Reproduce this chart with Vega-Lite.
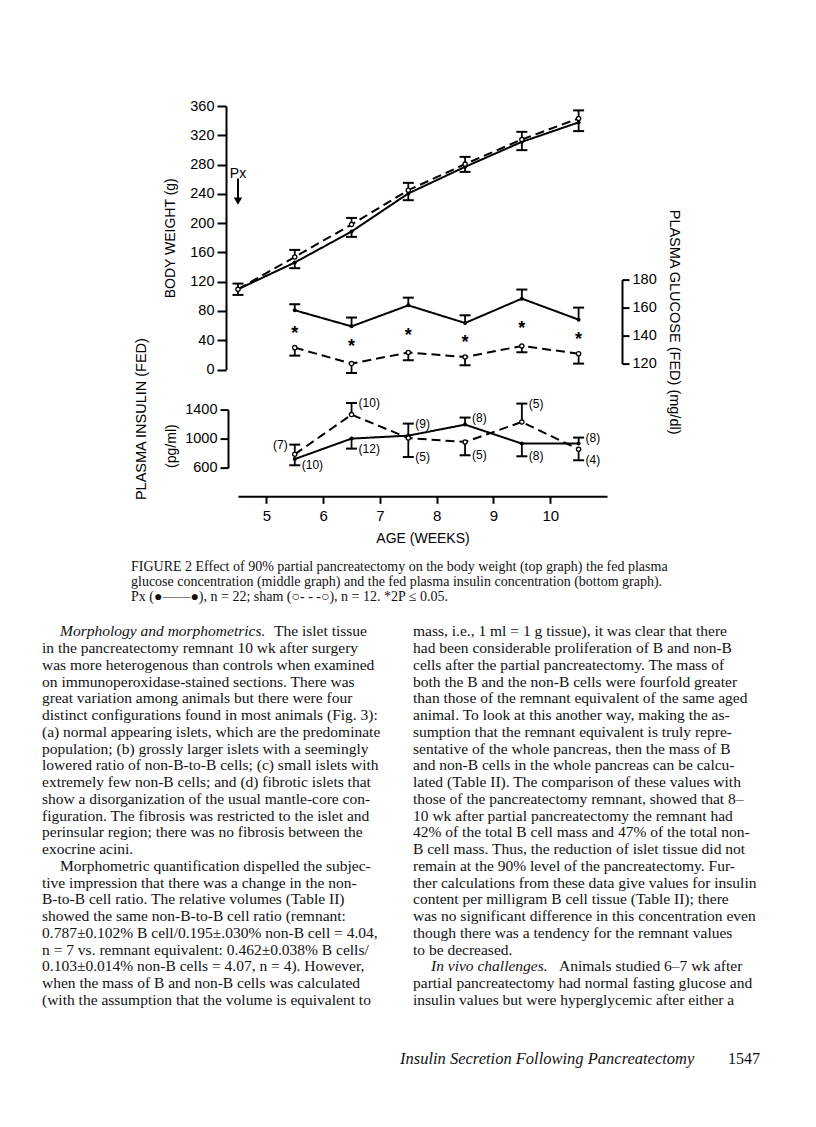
{
  "$schema": "https://vega.github.io/schema/vega-lite/v6.json",
  "background": "white",
  "padding": {"left": 42, "top": 98, "right": 0, "bottom": 0},
  "config": {
    "view": {"stroke": null},
    "axis": {
      "grid": false, "labelOverlap": false, "labelFlush": false, "format": "d",
      "domainColor": "black", "tickColor": "black", "labelColor": "black", "titleColor": "black",
      "labelFont": "Liberation Sans", "titleFont": "Liberation Sans",
      "labelFontSize": 14.5, "titleFontSize": 14.5, "titleFontWeight": "normal",
      "domainWidth": 2, "tickWidth": 2, "tickSize": 9, "labelPadding": 3
    }
  },
  "datasets": {
    "weight": [
      {"week": 4.5, "group": "Px", "mean": 109.7, "bar": 101.9},
      {"week": 4.5, "group": "Sham", "mean": 109.7, "bar": 117.4},
      {"week": 5.5, "group": "Px", "mean": 146.2, "bar": 138.4},
      {"week": 5.5, "group": "Sham", "mean": 153.8, "bar": 163.4},
      {"week": 6.5, "group": "Px", "mean": 188.5, "bar": 181.2},
      {"week": 6.5, "group": "Sham", "mean": 198.1, "bar": 207.1},
      {"week": 7.5, "group": "Px", "mean": 240.5, "bar": 231.3},
      {"week": 7.5, "group": "Sham", "mean": 245, "bar": 255},
      {"week": 8.5, "group": "Px", "mean": 276.9, "bar": 270},
      {"week": 8.5, "group": "Sham", "mean": 280.6, "bar": 290.5},
      {"week": 9.5, "group": "Px", "mean": 311, "bar": 299.7},
      {"week": 9.5, "group": "Sham", "mean": 314.3, "bar": 324.7},
      {"week": 10.5, "group": "Px", "mean": 337.6, "bar": 325.7},
      {"week": 10.5, "group": "Sham", "mean": 343, "bar": 354}
    ],
    "pxnote": [
      {"week": 4.5, "top": 261, "tip": 230, "label": "Px", "labelAt": 267}
    ],
    "glucose": [
      {"week": 5.5, "group": "Px", "mean": 158.1, "bar": 162.4},
      {"week": 6.5, "group": "Px", "mean": 146.6, "bar": 152.9},
      {"week": 7.5, "group": "Px", "mean": 161.6, "bar": 167.1},
      {"week": 8.5, "group": "Px", "mean": 149, "bar": 154.5},
      {"week": 9.5, "group": "Px", "mean": 166.4, "bar": 172.9},
      {"week": 10.5, "group": "Px", "mean": 151.4, "bar": 160},
      {"week": 5.5, "group": "Sham", "mean": 131.4, "bar": 125.7},
      {"week": 6.5, "group": "Sham", "mean": 120, "bar": 113.3},
      {"week": 7.5, "group": "Sham", "mean": 127.9, "bar": 122.4},
      {"week": 8.5, "group": "Sham", "mean": 124.7, "bar": 118.8},
      {"week": 9.5, "group": "Sham", "mean": 132.6, "bar": 128.1},
      {"week": 10.5, "group": "Sham", "mean": 127.1, "bar": 120}
    ],
    "stars": [
      {"week": 5.5, "value": 144.3},
      {"week": 6.5, "value": 135},
      {"week": 7.5, "value": 142.9},
      {"week": 8.5, "value": 137.9},
      {"week": 9.5, "value": 147.4},
      {"week": 10.5, "value": 139.9}
    ],
    "insulin": [
      {"week": 5.5, "group": "Px", "mean": 718, "bar": 632, "n": "(10)"},
      {"week": 6.5, "group": "Px", "mean": 1000, "bar": 862, "n": "(12)"},
      {"week": 7.5, "group": "Px", "mean": 1041, "bar": 1207, "n": "(9)"},
      {"week": 8.5, "group": "Px", "mean": 1193, "bar": 1290, "n": "(8)"},
      {"week": 9.5, "group": "Px", "mean": 931, "bar": 756, "n": "(8)"},
      {"week": 10.5, "group": "Px", "mean": 931, "bar": 1014, "n": "(8)"},
      {"week": 5.5, "group": "Sham", "mean": 783, "bar": 917, "n": "(7)"},
      {"week": 6.5, "group": "Sham", "mean": 1331, "bar": 1491, "n": "(10)"},
      {"week": 7.5, "group": "Sham", "mean": 1008, "bar": 746, "n": "(5)"},
      {"week": 8.5, "group": "Sham", "mean": 953, "bar": 770, "n": "(5)"},
      {"week": 9.5, "group": "Sham", "mean": 1229, "bar": 1483, "n": "(5)"},
      {"week": 10.5, "group": "Sham", "mean": 852, "bar": 701, "n": "(4)"}
    ],
    "caption": [
      {"col": "a", "line": 1, "text": "FIGURE 2  Effect of 90% partial pancreatectomy on the body weight (top graph) the fed plasma"},
      {"col": "a", "line": 2, "text": "glucose concentration (middle graph) and the fed plasma insulin concentration (bottom graph)."},
      {"col": "a", "line": 3, "text": "Px (\u25cf\u2014\u2014\u25cf), n = 22; sham (\u25cb- - -\u25cb), n = 12. *2P \u2264 0.05."}
    ],
    "body": [
      {"col": "a", "line": 1, "first": true, "head": "Morphology and morphometrics.", "text": "The islet tissue"},
      {"col": "a", "line": 2, "first": false, "text": "in the pancreatectomy remnant 10 wk after surgery"},
      {"col": "a", "line": 3, "first": false, "text": "was more heterogenous than controls when examined"},
      {"col": "a", "line": 4, "first": false, "text": "on immunoperoxidase-stained sections. There was"},
      {"col": "a", "line": 5, "first": false, "text": "great variation among animals but there were four"},
      {"col": "a", "line": 6, "first": false, "text": "distinct configurations found in most animals (Fig. 3):"},
      {"col": "a", "line": 7, "first": false, "text": "(a) normal appearing islets, which are the predominate"},
      {"col": "a", "line": 8, "first": false, "text": "population; (b) grossly larger islets with a seemingly"},
      {"col": "a", "line": 9, "first": false, "text": "lowered ratio of non-B-to-B cells; (c) small islets with"},
      {"col": "a", "line": 10, "first": false, "text": "extremely few non-B cells; and (d) fibrotic islets that"},
      {"col": "a", "line": 11, "first": false, "text": "show a disorganization of the usual mantle-core con-"},
      {"col": "a", "line": 12, "first": false, "text": "figuration. The fibrosis was restricted to the islet and"},
      {"col": "a", "line": 13, "first": false, "text": "perinsular region; there was no fibrosis between the"},
      {"col": "a", "line": 14, "first": false, "text": "exocrine acini."},
      {"col": "a", "line": 15, "first": true, "text": "Morphometric quantification dispelled the subjec-"},
      {"col": "a", "line": 16, "first": false, "text": "tive impression that there was a change in the non-"},
      {"col": "a", "line": 17, "first": false, "text": "B-to-B cell ratio. The relative volumes (Table II)"},
      {"col": "a", "line": 18, "first": false, "text": "showed the same non-B-to-B cell ratio (remnant:"},
      {"col": "a", "line": 19, "first": false, "text": "0.787\u00b10.102% B cell/0.195\u00b1.030% non-B cell = 4.04,"},
      {"col": "a", "line": 20, "first": false, "text": "n = 7 vs. remnant equivalent: 0.462\u00b10.038% B cells/"},
      {"col": "a", "line": 21, "first": false, "text": "0.103\u00b10.014% non-B cells = 4.07, n = 4). However,"},
      {"col": "a", "line": 22, "first": false, "text": "when the mass of B and non-B cells was calculated"},
      {"col": "a", "line": 23, "first": false, "text": "(with the assumption that the volume is equivalent to"},
      {"col": "b", "line": 1, "first": false, "text": "mass, i.e., 1 ml = 1 g tissue), it was clear that there"},
      {"col": "b", "line": 2, "first": false, "text": "had been considerable proliferation of B and non-B"},
      {"col": "b", "line": 3, "first": false, "text": "cells after the partial pancreatectomy. The mass of"},
      {"col": "b", "line": 4, "first": false, "text": "both the B and the non-B cells were fourfold greater"},
      {"col": "b", "line": 5, "first": false, "text": "than those of the remnant equivalent of the same aged"},
      {"col": "b", "line": 6, "first": false, "text": "animal. To look at this another way, making the as-"},
      {"col": "b", "line": 7, "first": false, "text": "sumption that the remnant equivalent is truly repre-"},
      {"col": "b", "line": 8, "first": false, "text": "sentative of the whole pancreas, then the mass of B"},
      {"col": "b", "line": 9, "first": false, "text": "and non-B cells in the whole pancreas can be calcu-"},
      {"col": "b", "line": 10, "first": false, "text": "lated (Table II). The comparison of these values with"},
      {"col": "b", "line": 11, "first": false, "text": "those of the pancreatectomy remnant, showed that 8\u2013"},
      {"col": "b", "line": 12, "first": false, "text": "10 wk after partial pancreatectomy the remnant had"},
      {"col": "b", "line": 13, "first": false, "text": "42% of the total B cell mass and 47% of the total non-"},
      {"col": "b", "line": 14, "first": false, "text": "B cell mass. Thus, the reduction of islet tissue did not"},
      {"col": "b", "line": 15, "first": false, "text": "remain at the 90% level of the pancreatectomy. Fur-"},
      {"col": "b", "line": 16, "first": false, "text": "ther calculations from these data give values for insulin"},
      {"col": "b", "line": 17, "first": false, "text": "content per milligram B cell tissue (Table II); there"},
      {"col": "b", "line": 18, "first": false, "text": "was no significant difference in this concentration even"},
      {"col": "b", "line": 19, "first": false, "text": "though there was a tendency for the remnant values"},
      {"col": "b", "line": 20, "first": false, "text": "to be decreased."},
      {"col": "b", "line": 21, "first": true, "head": "In vivo challenges.", "text": "Animals studied 6\u20137 wk after"},
      {"col": "b", "line": 22, "first": false, "text": "partial pancreatectomy had normal fasting glucose and"},
      {"col": "b", "line": 23, "first": false, "text": "insulin values but were hyperglycemic after either a"}
    ],
    "footer": [
      {"part": "title", "text": "Insulin Secretion Following Pancreatectomy"},
      {"part": "page", "text": "1547"}
    ]
  },
  "spacing": 461.3,
  "bounds": "flush",
  "vconcat": [
    {
      "hconcat": [
        {"width": 195.6, "height": 1, "data": {"values": []}, "mark": "point", "encoding": {}},
        {
          "vconcat": [
            {
              "vconcat": [
                {
                  "width": 369, "height": 263.5,
                  "encoding": {
                    "x": {"field": "week", "type": "quantitative", "scale": {"domain": [4.5, 11], "nice": false, "zero": false}, "axis": null}
                  },
                  "layer": [
                    {
                      "data": {"name": "weight"},
                      "mark": {"type": "line", "strokeWidth": 2, "color": "black"},
                      "encoding": {
                        "y": {"field": "mean", "type": "quantitative", "scale": {"domain": [0, 360], "nice": false},
                          "axis": {"values": [0, 40, 80, 120, 160, 200, 240, 280, 320, 360], "tickCount": 30, "labelOverlap": false, "labelFlush": false, "offset": 12, "title": "BODY WEIGHT (g)", "titlePadding": 12, "titleFontSize": 14}},
                        "strokeDash": {"field": "group", "type": "nominal", "scale": {"domain": ["Px", "Sham"], "range": [[1, 0], [9, 5]]}, "legend": null}
                      }
                    },
                    {
                      "data": {"name": "weight"},
                      "mark": {"type": "rule", "strokeWidth": 1.8, "color": "black"},
                      "encoding": {"y": {"field": "mean", "type": "quantitative"}, "y2": {"field": "bar"}}
                    },
                    {
                      "data": {"name": "weight"},
                      "mark": {"type": "tick", "orient": "horizontal", "size": 11, "thickness": 2, "color": "black", "opacity": 1},
                      "encoding": {"y": {"field": "bar", "type": "quantitative"}}
                    },
                    {
                      "data": {"name": "weight"},
                      "transform": [{"filter": "datum.group === 'Px'"}],
                      "mark": {"type": "point", "filled": true, "size": 16, "color": "black", "opacity": 1},
                      "encoding": {"y": {"field": "mean", "type": "quantitative"}}
                    },
                    {
                      "data": {"name": "weight"},
                      "transform": [{"filter": "datum.group === 'Sham'"}],
                      "mark": {"type": "point", "filled": true, "fill": "white", "stroke": "black", "strokeWidth": 1.3, "size": 18, "opacity": 1},
                      "encoding": {"y": {"field": "mean", "type": "quantitative"}}
                    },
                    {
                      "data": {"name": "pxnote"},
                      "mark": {"type": "rule", "strokeWidth": 2, "color": "black"},
                      "encoding": {"y": {"field": "top", "type": "quantitative"}, "y2": {"field": "tip"}}
                    },
                    {
                      "data": {"name": "pxnote"},
                      "mark": {"type": "point", "shape": "triangle-down", "filled": true, "size": 70, "color": "black", "opacity": 1},
                      "encoding": {"y": {"field": "tip", "type": "quantitative"}}
                    },
                    {
                      "data": {"name": "pxnote"},
                      "mark": {"type": "text", "font": "Liberation Sans", "fontSize": 14, "baseline": "middle", "align": "center", "color": "black"},
                      "encoding": {"y": {"field": "labelAt", "type": "quantitative"}, "text": {"field": "label"}}
                    }
                  ]
                }
              ],
              "bounds": "flush"
            },
            {
              "vconcat": [
                {
                  "width": 369, "height": 84,
                  "encoding": {
                    "x": {"field": "week", "type": "quantitative", "scale": {"domain": [4.5, 11], "nice": false, "zero": false}, "axis": null}
                  },
                  "layer": [
                    {
                      "data": {"name": "glucose"},
                      "mark": {"type": "line", "strokeWidth": 2, "color": "black"},
                      "encoding": {
                        "y": {"field": "mean", "type": "quantitative", "scale": {"domain": [120, 180], "nice": false, "zero": false},
                          "axis": {"orient": "right", "values": [120, 140, 160, 180], "tickCount": 30, "labelOverlap": false, "labelFlush": false, "offset": 15, "tickSize": 7, "title": "PLASMA GLUCOSE (FED) (mg/dl)", "titlePadding": 10, "titleFontSize": 14.5}},
                        "strokeDash": {"field": "group", "type": "nominal", "scale": {"domain": ["Px", "Sham"], "range": [[1, 0], [9, 5]]}, "legend": null}
                      }
                    },
                    {
                      "data": {"name": "glucose"},
                      "mark": {"type": "rule", "strokeWidth": 1.8, "color": "black"},
                      "encoding": {"y": {"field": "mean", "type": "quantitative"}, "y2": {"field": "bar"}}
                    },
                    {
                      "data": {"name": "glucose"},
                      "mark": {"type": "tick", "orient": "horizontal", "size": 11, "thickness": 2, "color": "black", "opacity": 1},
                      "encoding": {"y": {"field": "bar", "type": "quantitative"}}
                    },
                    {
                      "data": {"name": "glucose"},
                      "transform": [{"filter": "datum.group === 'Px'"}],
                      "mark": {"type": "point", "filled": true, "size": 16, "color": "black", "opacity": 1},
                      "encoding": {"y": {"field": "mean", "type": "quantitative"}}
                    },
                    {
                      "data": {"name": "glucose"},
                      "transform": [{"filter": "datum.group === 'Sham'"}],
                      "mark": {"type": "point", "filled": true, "fill": "white", "stroke": "black", "strokeWidth": 1.3, "size": 18, "opacity": 1},
                      "encoding": {"y": {"field": "mean", "type": "quantitative"}}
                    },
                    {
                      "data": {"name": "stars"},
                      "mark": {"type": "text", "text": "*", "font": "Liberation Sans", "fontSize": 18, "fontWeight": "bold", "baseline": "middle", "dy": 4, "color": "black"},
                      "encoding": {"y": {"field": "value", "type": "quantitative"}}
                    }
                  ]
                },
                {
                  "width": 369, "height": 58,
                  "resolve": {"axis": {"y": "independent"}},
                  "encoding": {
                    "x": {"field": "week", "type": "quantitative", "scale": {"domain": [4.5, 11], "nice": false, "zero": false},
                      "axis": {"values": [5, 6, 7, 8, 9, 10], "tickCount": 30, "labelOverlap": false, "offset": 28.7, "tickSize": 7, "labelPadding": 5, "labelFontSize": 15, "title": "AGE (WEEKS)", "titlePadding": 8, "titleFontSize": 14}}
                  },
                  "layer": [
                    {
                      "data": {"name": "insulin"},
                      "mark": {"type": "line", "strokeWidth": 2, "color": "black"},
                      "encoding": {
                        "y": {"field": "mean", "type": "quantitative", "scale": {"domain": [600, 1400], "nice": false, "zero": false},
                          "axis": {"orient": "left", "values": [600, 1000, 1400], "tickCount": 30, "labelOverlap": false, "labelFlush": false, "offset": 10, "tickSize": 8, "title": "(pg/ml)", "titleFontSize": 14, "titleBaseline": "middle", "titleAngle": -90, "titleX": -57, "titleY": 36}},
                        "strokeDash": {"field": "group", "type": "nominal", "scale": {"domain": ["Px", "Sham"], "range": [[1, 0], [9, 5]]}, "legend": null}
                      }
                    },
                    {
                      "data": {"name": "insulin"},
                      "mark": {"type": "rule", "strokeWidth": 1.8, "color": "black"},
                      "encoding": {
                        "y": {"field": "mean", "type": "quantitative",
                          "axis": {"orient": "left", "offset": 10, "domain": false, "ticks": false, "labels": false, "title": "PLASMA INSULIN (FED)", "titleFontSize": 14.5, "titleBaseline": "middle", "titleAngle": -90, "titleX": -87, "titleY": 9}},
                        "y2": {"field": "bar"}
                      }
                    },
                    {
                      "data": {"name": "insulin"},
                      "mark": {"type": "tick", "orient": "horizontal", "size": 11, "thickness": 2, "color": "black", "opacity": 1},
                      "encoding": {"y": {"field": "bar", "type": "quantitative", "axis": null}}
                    },
                    {
                      "data": {"name": "insulin"},
                      "transform": [{"filter": "datum.group === 'Px'"}],
                      "mark": {"type": "point", "filled": true, "size": 16, "color": "black", "opacity": 1},
                      "encoding": {"y": {"field": "mean", "type": "quantitative", "axis": null}}
                    },
                    {
                      "data": {"name": "insulin"},
                      "transform": [{"filter": "datum.group === 'Sham'"}],
                      "mark": {"type": "point", "filled": true, "fill": "white", "stroke": "black", "strokeWidth": 1.3, "size": 18, "opacity": 1},
                      "encoding": {"y": {"field": "mean", "type": "quantitative", "axis": null}}
                    },
                    {
                      "data": {"name": "insulin"},
                      "transform": [{"filter": "!(datum.group === 'Sham' && datum.week === 5.5)"}],
                      "mark": {"type": "text", "font": "Liberation Sans", "fontSize": 12, "align": "left", "baseline": "middle", "dx": 7, "color": "black"},
                      "encoding": {"y": {"field": "bar", "type": "quantitative", "axis": null}, "text": {"field": "n"}}
                    },
                    {
                      "data": {"name": "insulin"},
                      "transform": [{"filter": "datum.group === 'Sham' && datum.week === 5.5"}],
                      "mark": {"type": "text", "font": "Liberation Sans", "fontSize": 12, "align": "right", "baseline": "middle", "dx": -7, "color": "black"},
                      "encoding": {"y": {"field": "bar", "type": "quantitative", "axis": null}, "text": {"field": "n"}}
                    }
                  ]
                }
              ],
              "spacing": 46,
              "bounds": "flush"
            }
          ],
          "spacing": 173.6,
          "bounds": "flush"
        }
      ],
      "spacing": 0,
      "bounds": "flush"
    },
    {
      "vconcat": [
        {
          "hconcat": [
            {"width": 89, "height": 1, "data": {"values": []}, "mark": "point", "encoding": {}},
            {
              "width": 600, "height": 30,
              "data": {"name": "caption"},
              "mark": {"type": "text", "align": "left", "baseline": "middle", "font": "Liberation Serif", "fontSize": 14, "color": "#111"},
              "encoding": {
                "x": {"field": "col", "type": "ordinal", "scale": {"type": "band", "domain": ["a"], "paddingInner": 0, "paddingOuter": 0}, "bandPosition": 0, "axis": null},
                "y": {"field": "line", "type": "quantitative", "scale": {"domain": [1, 3], "reverse": true, "nice": false, "zero": false}, "axis": null},
                "text": {"field": "text"}
              }
            }
          ],
          "spacing": 0,
          "bounds": "flush"
        },
        {
          "vconcat": [
            {
              "width": 742, "height": 368.5,
              "data": {"name": "body"},
              "encoding": {
                "x": {"field": "col", "type": "ordinal", "scale": {"type": "band", "domain": ["a", "b"], "paddingInner": 0, "paddingOuter": 0}, "bandPosition": 0, "axis": null},
                "y": {"field": "line", "type": "quantitative", "scale": {"domain": [1, 23], "reverse": true, "nice": false, "zero": false}, "axis": null},
                "text": {"field": "text"}
              },
              "layer": [
                {
                  "transform": [{"filter": "!datum.first"}],
                  "mark": {"type": "text", "align": "left", "baseline": "middle", "font": "Liberation Serif", "fontSize": 15.5, "color": "#111"}
                },
                {
                  "transform": [{"filter": "datum.first && !datum.head"}],
                  "mark": {"type": "text", "align": "left", "baseline": "middle", "dx": 18, "font": "Liberation Serif", "fontSize": 15.5, "color": "#111"}
                },
                {
                  "transform": [{"filter": "datum.head"}],
                  "mark": {"type": "text", "align": "left", "baseline": "middle", "dx": 18, "font": "Liberation Serif", "fontStyle": "italic", "fontSize": 15.5, "color": "#111"},
                  "encoding": {"text": {"field": "head"}}
                },
                {
                  "transform": [{"filter": "datum.head && datum.col === 'a'"}],
                  "mark": {"type": "text", "align": "left", "baseline": "middle", "dx": 232, "font": "Liberation Serif", "fontSize": 15.5, "color": "#111"}
                },
                {
                  "transform": [{"filter": "datum.head && datum.col === 'b'"}],
                  "mark": {"type": "text", "align": "left", "baseline": "middle", "dx": 146, "font": "Liberation Serif", "fontSize": 15.5, "color": "#111"}
                }
              ]
            },
            {
              "hconcat": [
                {"width": 358, "height": 1, "data": {"values": []}, "mark": "point", "encoding": {}},
                {
                  "width": 360, "height": 2,
                  "data": {"name": "footer"},
                  "encoding": {
                    "x": {"field": "part", "type": "ordinal", "scale": {"type": "band", "domain": ["title", "page"], "paddingInner": 0, "paddingOuter": 0}, "axis": null},
                    "text": {"field": "text"}
                  },
                  "layer": [
                    {
                      "transform": [{"filter": "datum.part === 'title'"}],
                      "mark": {"type": "text", "align": "left", "baseline": "middle", "font": "Liberation Serif", "fontStyle": "italic", "fontSize": 16.5, "color": "#111"},
                      "encoding": {"x": {"field": "part", "type": "ordinal", "bandPosition": 0}}
                    },
                    {
                      "transform": [{"filter": "datum.part === 'page'"}],
                      "mark": {"type": "text", "align": "right", "baseline": "middle", "font": "Liberation Serif", "fontSize": 16, "color": "#111"},
                      "encoding": {"x": {"field": "part", "type": "ordinal", "bandPosition": 1}}
                    }
                  ]
                }
              ],
              "spacing": 0,
              "bounds": "flush"
            }
          ],
          "spacing": 57.5,
          "bounds": "flush"
        }
      ],
      "spacing": 64,
      "bounds": "flush"
    }
  ]
}
